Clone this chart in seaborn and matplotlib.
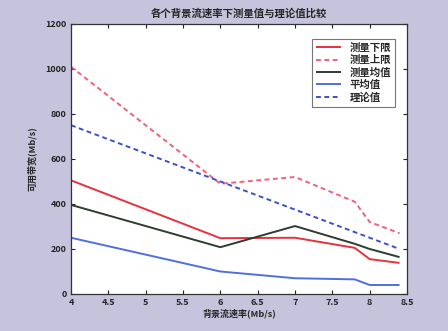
import numpy as np
import pandas as pd
import matplotlib
matplotlib.use("Agg")
import matplotlib.pyplot as plt
import seaborn as sns

# --- Donnees ---
rates = [4, 6, 7, 7.8, 8, 8.4]
lower = [505, 248, 250, 205, 155, 138]
upper = [1010, 490, 520, 410, 320, 270]
mean_meas = [396, 208, 302, 223, 200, 164]
avg = [250, 100, 70, 65, 40, 40]
theory = [750, 500, 375, 275, 250, 200]

labels = ["测量下限", "测量上限", "测量均值", "平均值", "理论值"]
series = [lower, upper, mean_meas, avg, theory]
colors = ["#e8313c", "#f0607a", "#2e3d30", "#4f6fe0", "#3f4fc8"]
dashes = [(1, 0), (2.5, 1.8), (1, 0), (1, 0), (2.5, 1.8)]

df = pd.concat([
    pd.DataFrame({"rate": rates, "bw": vals, "name": lab})
    for lab, vals in zip(labels, series)
], ignore_index=True)

sns.set_style("ticks")
plt.rcParams["font.family"] = ["Noto Sans CJK SC", "DejaVu Sans"]

bg = "#c6c4dd"
fig = plt.figure(figsize=(4.48, 3.31), dpi=100, facecolor=bg)
ax = fig.add_axes([0.1585, 0.1118, 0.75, 0.8157])
ax.set_facecolor("white")

sns.lineplot(data=df, x="rate", y="bw", hue="name", style="name",
             palette=dict(zip(labels, colors)), dashes=dict(zip(labels, dashes)),
             hue_order=labels, style_order=labels, linewidth=1.4, ax=ax)

ax.set_xlim(4, 8.5)
ax.set_ylim(0, 1200)
ax.set_xticks(np.arange(4, 8.51, 0.5))
ax.set_xticklabels(["4", "4.5", "5", "5.5", "6", "6.5", "7", "7.5", "8", "8.5"])
ax.set_yticks(np.arange(0, 1201, 200))
ax.tick_params(direction="in", top=True, right=True, labelsize=6.5, length=3,
               colors="#222222", pad=3)
for t in ax.get_xticklabels() + ax.get_yticklabels():
    t.set_fontweight("bold")
for s in ax.spines.values():
    s.set_color("#333333")
    s.set_linewidth(0.9)

ax.set_title("各个背景流速率下测量值与理论值比较", fontsize=7.5, fontweight="bold", pad=5)
ax.set_xlabel("背景流速率(Mb/s)", fontsize=6.5, fontweight="bold", labelpad=1)
ax.set_ylabel("可用带宽(Mb/s)", fontsize=6.5, fontweight="bold", labelpad=6)

leg = ax.legend(loc="upper right", fontsize=7.5, frameon=True, fancybox=False,
                handlelength=2.4, borderpad=0.4, labelspacing=0.2,
                bbox_to_anchor=(0.98, 0.965))
leg.get_frame().set_edgecolor("#555555")
leg.get_frame().set_linewidth(0.8)
for t in leg.get_texts():
    t.set_fontweight("bold")

fig.savefig("out.png", dpi=100, facecolor=bg)
